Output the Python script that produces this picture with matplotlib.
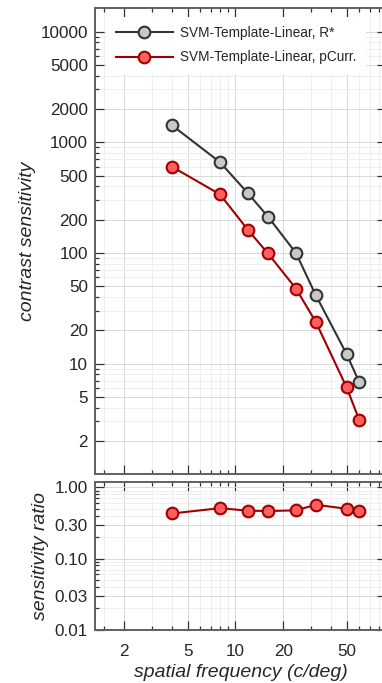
import matplotlib
matplotlib.use('Agg')
import matplotlib.pyplot as plt
from matplotlib.ticker import FixedLocator, NullFormatter, FixedFormatter

plt.rcParams['font.family'] = ['Liberation Sans', 'DejaVu Sans']

# data
sf = [4, 8, 12, 16, 24, 32, 50, 60]
cs_rstar = [1420, 660, 345, 213, 100, 41.5, 12.2, 6.8]
cs_pcurr = [600, 338, 161, 99, 47.7, 23.8, 6.1, 3.1]
ratio = [0.43, 0.51, 0.47, 0.465, 0.475, 0.57, 0.50, 0.465]

top_yticks = [2, 5, 10, 20, 50, 100, 200, 500, 1000, 2000, 5000, 10000]
bot_yticks = [0.01, 0.03, 0.10, 0.30, 1.00]
bot_ylabels = ['0.01', '0.03', '0.10', '0.30', '1.00']
xticks = [2, 5, 10, 20, 50]

txt = '#262626'
spine = '#606060'

fig = plt.figure(figsize=(3.82, 6.83), dpi=100)
ax0 = fig.add_axes([0.2487, 0.3056, 0.763, 0.6834])
ax1 = fig.add_axes([0.2487, 0.078, 0.763, 0.2167])


def style(ax):
    ax.set_xscale('log')
    ax.set_yscale('log')
    ax.set_xlim(1.31, 89)
    ax.xaxis.set_major_locator(FixedLocator(xticks))
    ax.xaxis.set_minor_locator(FixedLocator([1.5, 3, 4, 6, 7, 8, 9, 30, 40, 60, 70, 80]))
    ax.grid(True, which='major', color='#d9d9d9', lw=0.7)
    ax.grid(True, which='minor', color='#ececec', lw=0.6)
    ax.set_axisbelow(True)
    for s in ax.spines.values():
        s.set_color(spine)
        s.set_linewidth(1.4)
    ax.tick_params(which='both', direction='in', top=True, right=True,
                   color='#333333', labelcolor=txt, labelsize=12.3, width=0.9)
    ax.tick_params(which='major', length=6.5)
    ax.tick_params(which='minor', length=3.2)
    ax.tick_params(axis='y', pad=5)
    ax.tick_params(axis='x', pad=10)


style(ax0)
ax0.plot(sf, cs_rstar, '-o', color='#333333', lw=1.5, ms=8.4, mfc='#c8c8c8',
         mec='#333333', mew=1.5, label='SVM-Template-Linear, R*')
ax0.plot(sf, cs_pcurr, '-o', color='#a00000', lw=1.5, ms=8.4, mfc='#ff5f5f',
         mec='#a00000', mew=1.5, label='SVM-Template-Linear, pCurr.')
ax0.set_ylim(1.0, 16500)
ax0.yaxis.set_major_locator(FixedLocator(top_yticks))
ax0.yaxis.set_major_formatter(FixedFormatter([str(v) for v in top_yticks]))
ax0.yaxis.set_minor_locator(FixedLocator([3, 4, 6, 7, 8, 9, 30, 40, 60, 70, 80, 90,
                                          300, 400, 600, 700, 800, 900,
                                          3000, 4000, 6000, 7000, 8000, 9000]))
ax0.yaxis.set_minor_formatter(NullFormatter())
ax0.xaxis.set_major_formatter(NullFormatter())
ax0.xaxis.set_minor_formatter(NullFormatter())
ax0.set_ylabel('contrast sensitivity', fontsize=14, style='italic', color=txt, labelpad=3)
leg = ax0.legend(loc='upper left', bbox_to_anchor=(0.015, 0.995), fontsize=9.8,
                 frameon=True, fancybox=False, edgecolor='none', facecolor='white',
                 framealpha=1, handlelength=4.2, handletextpad=0.5,
                 labelspacing=0.75, borderpad=0.7)
for t in leg.get_texts():
    t.set_color(txt)

style(ax1)
ax1.plot(sf, ratio, '-o', color='#a00000', lw=1.5, ms=8.4, mfc='#ff5f5f',
         mec='#a00000', mew=1.5)
ax1.set_ylim(0.01, 1.2)
ax1.yaxis.set_major_locator(FixedLocator(bot_yticks))
ax1.yaxis.set_major_formatter(FixedFormatter(bot_ylabels))
ax1.yaxis.set_minor_locator(FixedLocator([0.02, 0.04, 0.05, 0.06, 0.07, 0.08, 0.09,
                                          0.2, 0.4, 0.5, 0.6, 0.7, 0.8, 0.9]))
ax1.yaxis.set_minor_formatter(NullFormatter())
ax1.xaxis.set_major_formatter(FixedFormatter([str(v) for v in xticks]))
ax1.xaxis.set_minor_formatter(NullFormatter())
ax1.set_ylabel('sensitivity ratio', fontsize=14, style='italic', color=txt, labelpad=4)
ax1.set_xlabel('spatial frequency (c/deg)', fontsize=14, style='italic', color=txt, labelpad=4)

fig.savefig('out.png', dpi=100)
